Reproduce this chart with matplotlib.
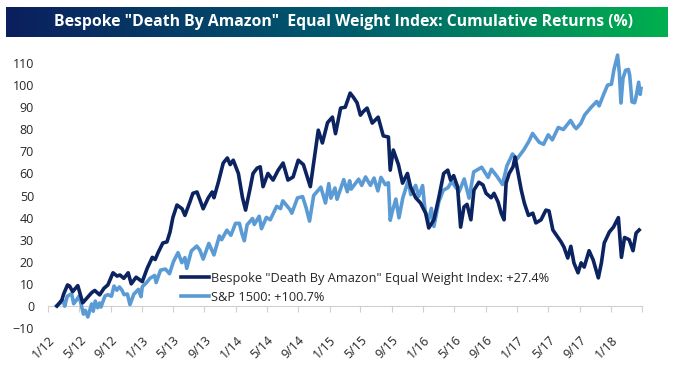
'''Bespoke "Death By Amazon" index vs S&P 1500, cumulative returns.'''

import numpy as np
import pandas as pd
import matplotlib
matplotlib.use('Agg')
import matplotlib.pyplot as plt
from matplotlib.colors import LinearSegmentedColormap

# Bespoke "Death By Amazon" equal weight index, cumulative return (%)
amzn_dates = [
    '2012-02-05', '2012-02-24', '2012-03-02', '2012-03-17', '2012-03-25',
    '2012-04-06', '2012-04-26', '2012-05-15', '2012-05-27', '2012-06-04',
    '2012-06-19', '2012-07-01', '2012-07-20', '2012-08-06', '2012-08-21',
    '2012-09-10', '2012-09-26', '2012-10-07', '2012-10-22', '2012-11-08',
    '2012-11-20', '2012-12-09', '2012-12-21', '2013-01-02', '2013-01-21',
    '2013-02-10', '2013-02-21', '2013-03-04', '2013-03-23', '2013-04-08',
    '2013-04-20', '2013-05-01', '2013-05-17', '2013-06-06', '2013-06-17',
    '2013-07-06', '2013-07-18', '2013-08-03', '2013-08-27', '2013-09-16',
    '2013-10-01', '2013-10-08', '2013-10-25', '2013-11-13', '2013-11-29',
    '2013-12-10', '2013-12-22', '2014-01-11', '2014-01-27', '2014-02-08',
    '2014-02-27', '2014-03-09', '2014-03-25', '2014-04-06', '2014-04-17',
    '2014-05-06', '2014-05-26', '2014-06-15', '2014-07-04', '2014-07-23',
    '2014-08-12', '2014-09-01', '2014-09-21', '2014-10-18', '2014-10-30',
    '2014-11-18', '2014-12-04', '2014-12-24', '2015-01-12', '2015-01-24',
    '2015-02-13', '2015-03-03', '2015-03-22', '2015-04-03', '2015-04-18',
    '2015-05-01', '2015-05-12', '2015-05-27', '2015-06-16', '2015-07-09',
    '2015-07-29', '2015-08-18', '2015-08-25', '2015-09-06', '2015-09-26',
    '2015-10-12', '2015-10-31', '2015-11-12', '2015-12-02', '2015-12-21',
    '2016-01-10', '2016-01-22', '2016-02-11', '2016-03-01', '2016-03-20',
    '2016-04-05', '2016-04-16', '2016-04-28', '2016-05-13', '2016-05-25',
    '2016-06-07', '2016-06-19', '2016-07-04', '2016-07-16', '2016-08-04',
    '2016-08-20', '2016-09-01', '2016-09-21', '2016-10-02', '2016-10-18',
    '2016-10-30', '2016-11-10', '2016-11-18', '2016-11-30', '2016-12-15',
    '2016-12-23', '2017-01-04', '2017-01-16', '2017-01-28', '2017-02-13',
    '2017-03-02', '2017-03-14', '2017-04-03', '2017-04-22', '2017-05-04',
    '2017-05-19', '2017-06-08', '2017-06-20', '2017-07-01', '2017-07-16',
    '2017-07-28', '2017-08-09', '2017-08-25', '2017-09-06', '2017-09-18',
    '2017-10-07', '2017-10-23', '2017-11-12', '2017-11-24', '2017-12-05',
    '2017-12-25', '2018-01-10', '2018-01-29', '2018-02-10', '2018-02-22',
    '2018-03-12', '2018-03-27', '2018-04-08', '2018-04-20',
]
amzn_values = [
    0.0, 2.7, 5.4, 9.5, 9.0,
    6.5, 9.2, 1.4, 3.0, 4.0,
    6.0, 7.0, 5.0, 8.0, 9.5,
    15.0, 13.5, 14.0, 12.5, 15.0,
    10.0, 13.0, 12.0, 11.0, 17.0,
    22.0, 21.0, 24.0, 28.5, 29.0,
    33.5, 40.0, 45.7, 44.0, 41.0,
    47.0, 51.0, 51.6, 44.0, 49.0,
    51.6, 49.0, 56.0, 64.7, 67.0,
    64.0, 66.0, 60.0, 49.0, 43.4,
    54.0, 60.0, 62.4, 63.0, 54.0,
    60.0, 57.0, 61.5, 64.7, 57.0,
    58.4, 66.0, 64.0, 54.0, 64.0,
    79.6, 73.8, 83.0, 85.5, 78.0,
    89.6, 90.0, 96.4, 94.6, 92.0,
    86.4, 88.0, 89.6, 82.8, 85.5,
    77.0, 76.5, 61.5, 70.6, 64.0,
    55.6, 60.0, 54.0, 49.0, 46.6,
    42.0, 35.3, 39.0, 49.0, 60.0,
    61.5, 57.0, 59.0, 54.0, 35.7,
    44.8, 46.0, 39.0, 52.5, 56.0,
    54.8, 51.0, 49.0, 51.0, 47.0,
    42.0, 39.0, 55.6, 60.0, 63.0,
    67.4, 60.0, 52.5, 46.6, 41.0,
    42.0, 37.6, 39.0, 43.4, 43.0,
    34.4, 31.0, 29.0, 26.7, 21.7,
    27.0, 19.5, 15.0, 19.5, 17.6,
    25.0, 20.8, 12.7, 19.5, 28.5,
    33.5, 35.7, 40.0, 22.0, 31.0,
    30.0, 25.0, 33.0, 34.4,
]

# S&P 1500, cumulative return (%)
spx_dates = [
    '2012-02-03', '2012-02-17', '2012-03-01', '2012-03-06', '2012-03-16',
    '2012-04-02', '2012-04-10', '2012-04-20', '2012-05-01', '2012-05-18',
    '2012-05-25', '2012-06-04', '2012-06-19', '2012-06-25', '2012-07-03',
    '2012-07-12', '2012-07-20', '2012-07-25', '2012-08-10', '2012-08-21',
    '2012-09-04', '2012-09-14', '2012-09-25', '2012-10-05', '2012-10-15',
    '2012-10-23', '2012-11-05', '2012-11-15', '2012-11-30', '2012-12-18',
    '2012-12-28', '2013-01-02', '2013-01-18', '2013-02-01', '2013-02-19',
    '2013-02-25', '2013-03-14', '2013-04-02', '2013-04-18', '2013-05-03',
    '2013-05-21', '2013-06-05', '2013-06-17', '2013-06-24', '2013-07-12',
    '2013-08-02', '2013-08-14', '2013-08-27', '2013-09-18', '2013-10-08',
    '2013-10-29', '2013-11-07', '2013-11-27', '2013-12-13', '2013-12-31',
    '2014-01-15', '2014-01-24', '2014-02-03', '2014-02-14', '2014-03-07',
    '2014-03-14', '2014-04-02', '2014-04-11', '2014-04-30', '2014-05-15',
    '2014-06-09', '2014-06-24', '2014-07-03', '2014-07-31', '2014-08-07',
    '2014-08-29', '2014-09-18', '2014-10-01', '2014-10-15', '2014-10-31',
    '2014-11-28', '2014-12-16', '2014-12-29', '2015-01-06', '2015-01-22',
    '2015-01-30', '2015-02-25', '2015-03-11', '2015-03-20', '2015-03-26',
    '2015-04-24', '2015-05-06', '2015-05-21', '2015-06-09', '2015-06-23',
    '2015-07-08', '2015-07-20', '2015-08-06', '2015-08-18', '2015-08-25',
    '2015-09-01', '2015-09-16', '2015-09-28', '2015-10-13', '2015-11-03',
    '2015-11-13', '2015-12-02', '2015-12-14', '2015-12-29', '2016-01-08',
    '2016-01-20', '2016-02-01', '2016-02-11', '2016-03-01', '2016-03-18',
    '2016-04-06', '2016-04-20', '2016-05-19', '2016-06-08', '2016-06-27',
    '2016-07-15', '2016-08-15', '2016-09-09', '2016-09-22', '2016-10-14',
    '2016-11-04', '2016-11-21', '2016-12-13', '2016-12-30', '2017-01-26',
    '2017-02-15', '2017-03-01', '2017-03-27', '2017-04-13', '2017-05-01',
    '2017-05-17', '2017-06-09', '2017-06-29', '2017-07-27', '2017-08-10',
    '2017-08-18', '2017-09-05', '2017-09-20', '2017-10-16', '2017-11-06',
    '2017-11-15', '2017-12-04', '2017-12-18', '2018-01-02', '2018-01-12',
    '2018-01-26', '2018-02-02', '2018-02-08', '2018-02-16', '2018-02-26',
    '2018-03-09', '2018-03-14', '2018-03-23', '2018-04-02', '2018-04-06',
    '2018-04-18', '2018-04-24', '2018-04-27',
]
spx_values = [
    0.0, 1.2, 2.2, -0.1, 4.4,
    5.5, 1.0, 2.5, 4.5, -3.7,
    -2.0, -5.0, 0.9, -2.4, 2.2,
    -0.8, 1.3, -0.5, 4.5, 5.1,
    4.4, 9.0, 7.1, 8.6, 7.1,
    5.1, 5.4, 0.6, 5.3, 7.5,
    4.2, 8.7, 10.5, 12.5, 13.8,
    10.6, 16.2, 16.7, 14.6, 20.0,
    24.1, 19.6, 21.9, 17.0, 24.9,
    27.1, 25.3, 21.2, 28.3, 23.1,
    31.7, 30.0, 34.3, 32.0, 37.4,
    37.4, 33.1, 29.5, 36.7, 39.6,
    36.9, 40.6, 35.0, 40.1, 39.0,
    45.1, 44.1, 47.6, 43.6, 42.0,
    48.9, 49.5, 44.7, 38.4, 50.0,
    53.8, 46.6, 55.4, 48.8, 53.4,
    48.3, 57.2, 51.7, 56.7, 52.9,
    57.4, 54.6, 58.4, 54.6, 57.9,
    52.1, 58.2, 54.9, 55.8, 38.8,
    42.3, 48.4, 39.9, 48.9, 56.8,
    50.4, 54.6, 49.6, 54.5, 42.9,
    38.2, 44.2, 36.0, 47.1, 52.3,
    53.6, 56.3, 51.7, 57.5, 48.8,
    60.7, 62.8, 58.2, 61.9, 58.6,
    55.0, 63.4, 68.8, 66.5, 70.7,
    74.6, 78.1, 74.1, 73.2, 77.5,
    75.2, 80.8, 79.9, 84.0, 81.3,
    80.3, 82.7, 86.5, 90.1, 92.6,
    90.6, 96.2, 100.0, 100.4, 107.1,
    113.6, 105.4, 91.9, 103.1, 106.7,
    107.1, 104.5, 92.4, 92.0, 93.6,
    101.3, 95.8, 98.5,
]

amzn_label = 'Bespoke "Death By Amazon" Equal Weight Index: +27.4%'
spx_label = 'S&P 1500: +100.7%'
title = 'Bespoke "Death By Amazon"  Equal Weight Index: Cumulative Returns (%)'

tick_dates = pd.date_range('2012-01-01', '2018-05-01', freq='4MS')
tick_labels = ['{}/{}'.format(d.month, d.year % 100) for d in tick_dates[:-1]]
y_ticks = list(range(-10, 111, 10))

DARK = '#0B2360'
LIGHT = '#5B9BD5'
AXIS_GREY = '#D0D0D0'
TEXT = '#262626'


def main():
    plt.rcParams['font.family'] = ['Open Sans', 'DejaVu Sans']
    fig = plt.figure(figsize=(6.73, 3.75), dpi=100)

    # Title bar with a navy -> green gradient
    bar = fig.add_axes([6 / 673, 1 - 37 / 375, 662 / 673, 30 / 375])
    cmap = LinearSegmentedColormap.from_list(
        'bar', ['#0B1F5E', '#005A6E', '#00B04F'])
    bar.imshow(np.linspace(0, 1, 256).reshape(1, -1), aspect='auto',
               cmap=cmap, extent=(0, 1, 0, 1))
    bar.set_axis_off()
    bar.text(0.51, 0.5, title, color='white', fontsize=11.3,
             fontweight='bold', ha='center', va='center',
             transform=bar.transAxes)

    ax = fig.add_axes([48 / 673, 47 / 375, 594 / 673, 276 / 375])
    ax.plot(pd.to_datetime(spx_dates), spx_values, color=LIGHT, lw=2.6,
            label=spx_label, clip_on=False, zorder=2)
    ax.plot(pd.to_datetime(amzn_dates), amzn_values, color=DARK, lw=2.6,
            label=amzn_label, clip_on=False, zorder=3)

    ax.set_xlim(tick_dates[0], tick_dates[-1])
    ax.set_ylim(-10, 115)
    ax.set_yticks(y_ticks)
    ax.tick_params(axis='y', length=0, pad=10, labelsize=9, labelcolor=TEXT)

    for side in ('top', 'right', 'left'):
        ax.spines[side].set_visible(False)
    ax.spines['bottom'].set_position(('data', 0))
    ax.spines['bottom'].set_color(AXIS_GREY)
    ax.spines['bottom'].set_zorder(1)
    ax.set_xticks(tick_dates)
    ax.tick_params(axis='x', direction='out', length=4, color=AXIS_GREY,
                   labelbottom=False)

    # date labels sit at the bottom of the plot, not on the zero line
    sec = ax.secondary_xaxis('bottom')
    sec.set_xticks(tick_dates[:-1], tick_labels)
    sec.spines['bottom'].set_visible(False)
    sec.tick_params(length=0, pad=4, labelsize=9, labelcolor=TEXT)
    for lab in sec.get_xticklabels():
        lab.set_rotation(45)
        lab.set_ha('right')
        lab.set_rotation_mode('anchor')

    handles, labels = ax.get_legend_handles_labels()
    ax.legend(handles[::-1], labels[::-1], loc='upper left',
              bbox_to_anchor=(0.205, 0.245), frameon=False, fontsize=9.2,
              handlelength=2.2, handletextpad=0.15, labelspacing=0.45,
              labelcolor=TEXT)

    fig.savefig('out.png', dpi=100)


if __name__ == '__main__':
    main()
